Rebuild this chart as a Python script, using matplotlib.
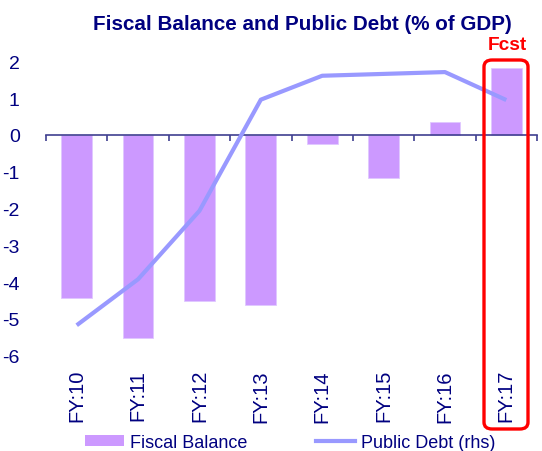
import numpy as np
import matplotlib
matplotlib.use("Agg")
import matplotlib.pyplot as plt
from matplotlib.patches import FancyBboxPatch, Patch
from matplotlib.lines import Line2D
from matplotlib.transforms import blended_transform_factory

plt.rcParams["font.family"] = ["Liberation Sans", "DejaVu Sans"]

# ---- Data ----
years = ["FY:10", "FY:11", "FY:12", "FY:13", "FY:14", "FY:15", "FY:16", "FY:17"]
fiscal_balance = [-4.42, -5.52, -4.52, -4.62, -0.24, -1.16, 0.36, 1.81]
# public debt is on a hidden rhs axis; values as seen against the lhs grid
public_debt = [-5.17, -3.92, -2.06, 0.96, 1.61, 1.66, 1.71, 0.95]

NAVY = "#000080"
BAR_C = "#CC99FF"
LINE_C = "#9999FF"

fig = plt.figure(figsize=(5.42, 4.52), dpi=100)
ax = fig.add_axes([0.0849, 1 - 356.8 / 452, 0.9059, (356.8 - 62.4) / 452])

x = np.arange(len(years))
ax.bar(x, fiscal_balance, width=0.5, color=BAR_C, edgecolor="#E0C8FF", linewidth=0.6, zorder=2)

ax.set_xlim(-0.5, len(years) - 0.5)
ax.set_ylim(-6, 2)
ax.set_yticks(range(-6, 3))
ax.set_yticklabels([str(v) for v in range(-6, 3)])
ax.tick_params(axis="y", length=0, pad=19, labelsize=14, labelcolor=NAVY)

for s in ["left", "right", "top"]:
    ax.spines[s].set_visible(False)
ax.spines["bottom"].set_position(("data", 0))
ax.spines["bottom"].set_color("#404090")
ax.spines["bottom"].set_linewidth(1.2)
ax.set_xticks(np.arange(-0.5, len(years), 1.0))
ax.tick_params(axis="x", direction="out", length=4, width=1.2, color="#404090", labelbottom=False)

# category labels at the bottom of the plot
trans = blended_transform_factory(ax.transData, ax.transAxes)
for i, lab in enumerate(years):
    ax.text(i, -0.045, lab, transform=trans, rotation=90, ha="center", va="top",
            fontsize=14.5, color=NAVY)

# public debt line (rhs, ticks hidden)
ax2 = ax.twinx()
ax2.plot(x, public_debt, color=LINE_C, linewidth=3, solid_capstyle="butt")
ax2.set_ylim(-6, 2)
ax2.set_yticks([])
for s in ax2.spines.values():
    s.set_visible(False)

fig.text(302 / 542, 1 - 24 / 452, "Fiscal Balance and Public Debt (% of GDP)", ha="center",
         va="center", fontsize=14.9, fontweight="bold", color=NAVY)

# forecast box
box = FancyBboxPatch((484 / 542, 1 - 430 / 452), 44 / 542, (430 - 61) / 452,
                     boxstyle="round,pad=0,rounding_size=0.015", transform=fig.transFigure,
                     facecolor="none", edgecolor="red", linewidth=2.4)
fig.patches.append(box)
fig.text(507 / 542, 1 - 46 / 452, "Fcst", ha="center", va="center", fontsize=13.8,
         fontweight="bold", color="red")

handles = [Patch(facecolor=BAR_C, edgecolor="none"),
           Line2D([0], [0], color=LINE_C, linewidth=3)]
fig.legend(handles, ["Fiscal Balance", "Public Debt (rhs)"], loc="center",
           bbox_to_anchor=(0.535, 1 - 443.5 / 452), ncol=2, frameon=False, fontsize=13,
           handlelength=2.2, handleheight=0.6, handletextpad=0.3, columnspacing=3.8,
           labelcolor=NAVY, borderpad=0)

fig.savefig("out.png", dpi=100)
